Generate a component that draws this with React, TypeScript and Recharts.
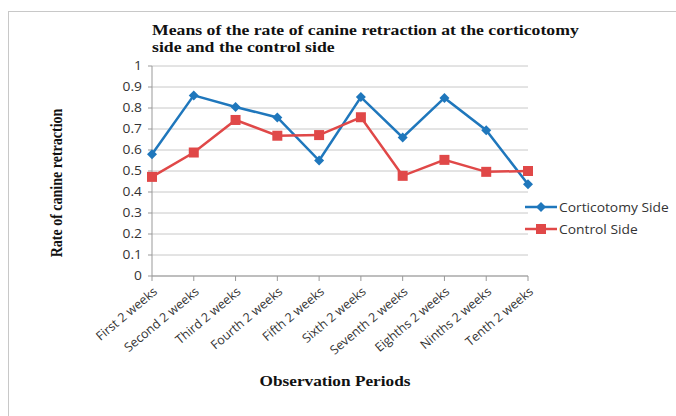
import { CartesianGrid, Line, LineChart, XAxis, YAxis } from "recharts";

const periods = [
  "First 2 weeks",
  "Second 2 weeks",
  "Third 2 weeks",
  "Fourth 2 weeks",
  "Fifth 2 weeks",
  "Sixth 2 weeks",
  "Seventh 2 weeks",
  "Eighths 2 weeks",
  "Ninths 2 weeks",
  "Tenth 2 weeks",
];
const corticotomySide = [0.58, 0.86, 0.805, 0.755, 0.55, 0.852, 0.66, 0.848, 0.694, 0.437];
const controlSide = [0.472, 0.588, 0.743, 0.668, 0.671, 0.756, 0.477, 0.553, 0.496, 0.5];
const yTicks = [0, 0.1, 0.2, 0.3, 0.4, 0.5, 0.6, 0.7, 0.8, 0.9, 1];

const BLUE = "#1F77BC";
const RED = "#E04848";
const SERIF = '"Liberation Serif", "Times New Roman", serif';
const SANS = '"Open Sans", "Liberation Sans", sans-serif';
// the source image is stretched sideways a bit
const STRETCH = 1.15;

const data = periods.map((p, i) => ({
  period: p,
  corticotomy: corticotomySide[i],
  control: controlSide[i],
}));

function Diamond(props: any) {
  const { cx, cy } = props;
  if (cx == null || cy == null) return null;
  const r = 5;
  return (
    <path
      d={`M${cx},${cy - r} L${cx + r},${cy} L${cx},${cy + r} L${cx - r},${cy} Z`}
      fill={BLUE}
    />
  );
}

function Square(props: any) {
  const { cx, cy } = props;
  if (cx == null || cy == null) return null;
  const s = 10;
  return <rect x={cx - s / 2} y={cy - s / 2} width={s} height={s} fill={RED} />;
}

function PeriodTick(props: any) {
  const { x, y, payload } = props;
  const tx = x + 6;
  const ty = y + 10;
  return (
    <text
      x={tx}
      y={ty}
      textAnchor="end"
      fontFamily={SANS}
      fontSize={12.5}
      fill="#333"
      transform={`rotate(-40 ${tx} ${ty})`}
    >
      {payload.value}
    </text>
  );
}

function ValueTick(props: any) {
  const { x, y, payload } = props;
  return (
    <g transform={`translate(${x} ${y}) scale(${STRETCH} 1)`}>
      <text x={0} y={4} textAnchor="end" fontFamily={SANS} fontSize={12} fill="#333">
        {payload.value}
      </text>
    </g>
  );
}

function LegendBox() {
  const rows = [
    { label: "Corticotomy Side", color: BLUE, kind: "diamond" },
    { label: "Control Side", color: RED, kind: "square" },
  ];
  return (
    <div
      style={{
        position: "absolute",
        left: 525,
        top: 196,
        fontFamily: SANS,
        fontSize: 12,
        color: "#333",
      }}
    >
      {rows.map((r) => (
        <div key={r.label} style={{ display: "flex", alignItems: "center", height: 22 }}>
          <svg width={32} height={12}>
            <line x1={0} y1={6} x2={32} y2={6} stroke={r.color} strokeWidth={2.5} />
            {r.kind === "diamond" ? (
              <path d="M16,1 L21,6 L16,11 L11,6 Z" fill={r.color} />
            ) : (
              <rect x={11} y={1} width={10} height={10} fill={r.color} />
            )}
          </svg>
          <span
            style={{
              marginLeft: 2,
              display: "inline-block",
              transform: `scaleX(${STRETCH})`,
              transformOrigin: "left center",
              whiteSpace: "nowrap",
            }}
          >
            {r.label}
          </span>
        </div>
      ))}
    </div>
  );
}

export default function App() {
  return (
    <div
      style={{
        position: "absolute",
        left: 0,
        top: 0,
        width: 676,
        height: 416,
        overflow: "hidden",
        background: "#fff",
      }}
    >
      <div
        style={{
          position: "absolute",
          left: 8,
          top: 11,
          width: 700,
          height: 420,
          border: "1px solid #c8c8c8",
        }}
      />
      <div
        style={{
          position: "absolute",
          left: 152,
          top: 22,
          fontFamily: SERIF,
          fontWeight: "bold",
          fontSize: 15,
          lineHeight: "17px",
          color: "#111",
          whiteSpace: "nowrap",
          transform: "scaleX(1.18)",
          transformOrigin: "left top",
        }}
      >
        Means of the rate of canine retraction at the corticotomy
        <br />
        side and the control side
      </div>
      <div
        style={{
          position: "absolute",
          left: 57,
          top: 183,
          transform: "translate(-50%, -50%) rotate(-90deg) scaleY(1.15)",
          whiteSpace: "nowrap",
          fontFamily: SERIF,
          fontWeight: "bold",
          fontSize: 14,
          color: "#111",
        }}
      >
        Rate of canine retraction
      </div>
      <div
        style={{
          position: "absolute",
          left: 335,
          top: 381,
          transform: `translate(-50%, -50%) scaleX(${STRETCH})`,
          whiteSpace: "nowrap",
          fontFamily: SERIF,
          fontWeight: "bold",
          fontSize: 15,
          color: "#111",
        }}
      >
        Observation Periods
      </div>
      <div style={{ position: "absolute", left: 0, top: 0 }}>
        <LineChart
          width={676}
          height={416}
          data={data}
          margin={{ top: 66, right: 148, bottom: 0, left: 112 }}
        >
          <CartesianGrid stroke="#c8c8c8" vertical={false} />
          <XAxis
            dataKey="period"
            interval={0}
            tick={<PeriodTick />}
            tickLine={{ stroke: "#999" }}
            axisLine={{ stroke: "#999" }}
            tickSize={5}
            height={140}
          />
          <YAxis
            domain={[0, 1]}
            ticks={yTicks}
            interval={0}
            width={40}
            tick={<ValueTick />}
            tickLine={{ stroke: "#999" }}
            axisLine={{ stroke: "#999" }}
            tickSize={4}
            tickMargin={6}
          />
          <Line
            dataKey="corticotomy"
            name="Corticotomy Side"
            stroke={BLUE}
            strokeWidth={2.5}
            dot={<Diamond />}
            activeDot={false}
            isAnimationActive={false}
          />
          <Line
            dataKey="control"
            name="Control Side"
            stroke={RED}
            strokeWidth={2.5}
            dot={<Square />}
            activeDot={false}
            isAnimationActive={false}
          />
        </LineChart>
      </div>
      <LegendBox />
    </div>
  );
}
